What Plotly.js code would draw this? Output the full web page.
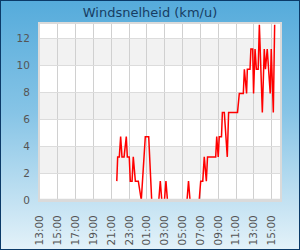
<!DOCTYPE html>
<html>
<head>
<meta charset="utf-8">
<script src="https://cdn.plot.ly/plotly-3.0.1.min.js"></script>
<style>
  html, body { margin: 0; padding: 0; }
  #wrap { position: relative; width: 300px; height: 250px;
    background: linear-gradient(to bottom, #55abdb 0%, #86c4e6 45%, #e4f2f9 100%); }
  #chart { position: absolute; left: 0; top: 0; width: 300px; height: 250px; }
  #frame { position: absolute; left: 0; top: 0; width: 300px; height: 250px;
    box-sizing: border-box; border: 1.5px solid #0b3a68; pointer-events: none; }
</style>
</head>
<body>
<div id="wrap"><div id="chart"></div><div id="frame"></div></div>
<script>
const chartTitle = "Windsnelheid (km/u)";
const times = [
  "2024-06-10 21:37","2024-06-10 21:43","2024-06-10 21:54","2024-06-10 22:03","2024-06-10 22:12",
  "2024-06-10 22:26","2024-06-10 22:41","2024-06-10 22:48","2024-06-10 23:01","2024-06-10 23:08",
  "2024-06-10 23:20","2024-06-10 23:28","2024-06-10 23:42","2024-06-11 00:02","2024-06-11 00:22",
  "2024-06-11 00:49","2024-06-11 01:12","2024-06-11 01:32","2024-06-11 02:20","2024-06-11 02:30",
  "2024-06-11 02:40","2024-06-11 02:58","2024-06-11 03:08","2024-06-11 03:18","2024-06-11 05:30",
  "2024-06-11 05:40","2024-06-11 05:50","2024-06-11 06:52","2024-06-11 07:02","2024-06-11 07:16",
  "2024-06-11 07:26","2024-06-11 07:40","2024-06-11 07:48","2024-06-11 08:43","2024-06-11 08:50",
  "2024-06-11 09:00","2024-06-11 09:07","2024-06-11 09:22","2024-06-11 09:28","2024-06-11 09:41",
  "2024-06-11 10:01","2024-06-11 10:10","2024-06-11 11:10","2024-06-11 11:22","2024-06-11 11:49",
  "2024-06-11 11:56","2024-06-11 12:11","2024-06-11 12:16","2024-06-11 12:34","2024-06-11 12:40",
  "2024-06-11 12:52","2024-06-11 12:58","2024-06-11 13:08","2024-06-11 13:17","2024-06-11 13:29",
  "2024-06-11 13:37","2024-06-11 13:57","2024-06-11 14:10","2024-06-11 14:18","2024-06-11 14:30",
  "2024-06-11 14:50","2024-06-11 14:57","2024-06-11 15:11","2024-06-11 15:20"
];
const speeds = [
  1.4,3.2,3.2,4.7,3.2,
  3.2,4.7,3.2,3.2,1.4,
  1.4,3.2,1.4,1.4,0,
  4.7,4.7,0,0,1.4,
  0,0,1.4,0,0,
  1.4,0,0,1.4,1.4,
  3.2,1.4,3.2,3.2,4.7,
  3.2,4.7,4.7,6.5,6.5,
  3.2,6.5,6.5,7.9,7.9,
  9.7,7.9,9.7,9.7,11.2,
  11.2,7.9,11.2,9.7,9.7,
  13.0,6.5,11.2,9.7,11.2,
  7.9,11.2,6.5,13.0
];
const xStart = "2024-06-10 13:00";
const xEnd = "2024-06-11 15:56";
const yTicks = [0,2,4,6,8,10,12];
const yMax = 13.06;

// alternating bands between gridlines
const shapes = [];
for (let i = 1; i < yTicks.length; i += 2) {
  const hi = i + 1 < yTicks.length ? yTicks[i + 1] : yMax;
  shapes.push({type:'rect', xref:'paper', yref:'y', x0:0, x1:1, y0:yTicks[i], y1:hi,
    fillcolor:'#f2f2f2', line:{width:0}, layer:'below'});
}
// bottom border drawn over the trace
shapes.push({type:'line', xref:'paper', yref:'paper', x0:0, x1:1, y0:0, y1:0,
  line:{color:'#dadada', width:2.5}, layer:'above'});

const trace = {
  x: times, y: speeds, type:'scatter', mode:'lines',
  line:{color:'#ff0000', width:1.5}, hoverinfo:'skip'
};

const layout = {
  width:300, height:250,
  margin:{l:40, r:20, t:24, b:50, pad:0},
  paper_bgcolor:'rgba(0,0,0,0)', plot_bgcolor:'#ffffff',
  showlegend:false,
  title:{text:chartTitle, x:0.5, xanchor:'center', y:0.952, yanchor:'middle',
    font:{family:'DejaVu Sans', size:13, color:'#173d63'}},
  font:{family:'DejaVu Sans', size:10.5, color:'#555555'},
  xaxis:{type:'date', range:[xStart, xEnd], tick0:xStart, dtick:7200000,
    tickformat:'%H:%M', tickangle:-90, ticks:'', ticklabelstandoff:9,
    showgrid:true, gridcolor:'#d0d0d0', gridwidth:1,
    showline:true, linecolor:'#dadada', linewidth:2, mirror:true, zeroline:false,
    tickfont:{family:'DejaVu Sans', size:10.5, color:'#555555'}},
  yaxis:{range:[0, yMax], tickvals:yTicks, ticks:'', ticklabelstandoff:6,
    showgrid:true, gridcolor:'#dcdcdc', gridwidth:1,
    showline:true, linecolor:'#dadada', linewidth:2, mirror:true, zeroline:false,
    tickfont:{family:'DejaVu Sans', size:10.5, color:'#555555'}},
  shapes:shapes
};

Plotly.newPlot('chart', [trace], layout, {staticPlot:true, displayModeBar:false});
</script>
</body>
</html>
